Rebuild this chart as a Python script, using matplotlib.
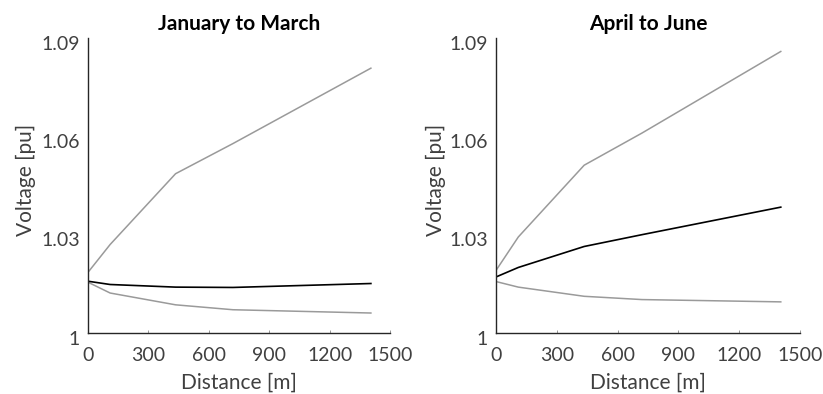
import matplotlib
matplotlib.use("Agg")
import matplotlib.pyplot as plt
import matplotlib.transforms as mtransforms

plt.rcParams['font.family'] = ['Lato', 'DejaVu Sans']

# Feeder node distances [m]
distance = [0, 110, 435, 720, 1405]

# January to March voltage profiles [pu]
q1_high = [1.0185, 1.0270, 1.0486, 1.0578, 1.0808]
q1_mid = [1.0158, 1.0148, 1.0140, 1.0139, 1.0151]
q1_low = [1.0155, 1.0122, 1.0086, 1.0071, 1.0061]

# April to June voltage profiles [pu]
q2_high = [1.0191, 1.0293, 1.0512, 1.0610, 1.0859]
q2_mid = [1.0171, 1.0200, 1.0264, 1.0300, 1.0384]
q2_low = [1.0157, 1.0140, 1.0112, 1.0102, 1.0095]

titles = ["January to March", "April to June"]
x_ticks = [0, 300, 600, 900, 1200, 1500]
y_ticks = [1.00, 1.03, 1.06, 1.09]
y_ticklabels = ["1", "1.03", "1.06", "1.09"]

gray = "#9a9a9a"
text_col = "#404040"

fig = plt.figure(figsize=(8.23, 3.94), dpi=100)
positions = [[0.1069, 0.1548, 0.367, 0.7487], [0.6027, 0.1548, 0.3694, 0.7487]]
panels = [(q1_high, q1_mid, q1_low), (q2_high, q2_mid, q2_low)]
ylabel_x = [-0.172, -0.165]

# y tick labels sit slightly below their tick positions
ylab_shift = mtransforms.ScaledTranslation(0, -4.5 / 100, fig.dpi_scale_trans)

for pos, title, (hi, mid, lo), yl_x in zip(positions, titles, panels, ylabel_x):
    ax = fig.add_axes(pos)
    ax.plot(distance, hi, color=gray, lw=1.1)
    ax.plot(distance, lo, color=gray, lw=1.1)
    ax.plot(distance, mid, color="black", lw=1.2)
    ax.set_xlim(0, 1500)
    ax.set_ylim(1.0, 1.09)
    ax.set_xticks(x_ticks)
    ax.set_yticks(y_ticks)
    ax.set_yticklabels(y_ticklabels)
    for side in ("top", "right"):
        ax.spines[side].set_visible(False)
    for side in ("left", "bottom"):
        ax.spines[side].set_color("#262626")
        ax.spines[side].set_linewidth(1.0)
    ax.tick_params(axis="x", direction="in", length=2, width=0.6, color="#888888",
                   labelsize=14, labelcolor=text_col, pad=10)
    ax.tick_params(axis="y", direction="in", length=0, labelsize=14,
                   labelcolor=text_col, pad=6)
    for lbl in ax.get_yticklabels():
        lbl.set_transform(lbl.get_transform() + ylab_shift)
    ax.set_xlabel("Distance [m]", fontsize=15, color=text_col)
    ax.xaxis.set_label_coords(0.5, -0.135)
    ax.set_ylabel("Voltage [pu]", fontsize=15, color=text_col)
    ax.yaxis.set_label_coords(yl_x, 0.52)
    ax.set_title(title, fontsize=15, fontweight="bold", color="black", pad=6)

fig.savefig("out.png", dpi=100)
